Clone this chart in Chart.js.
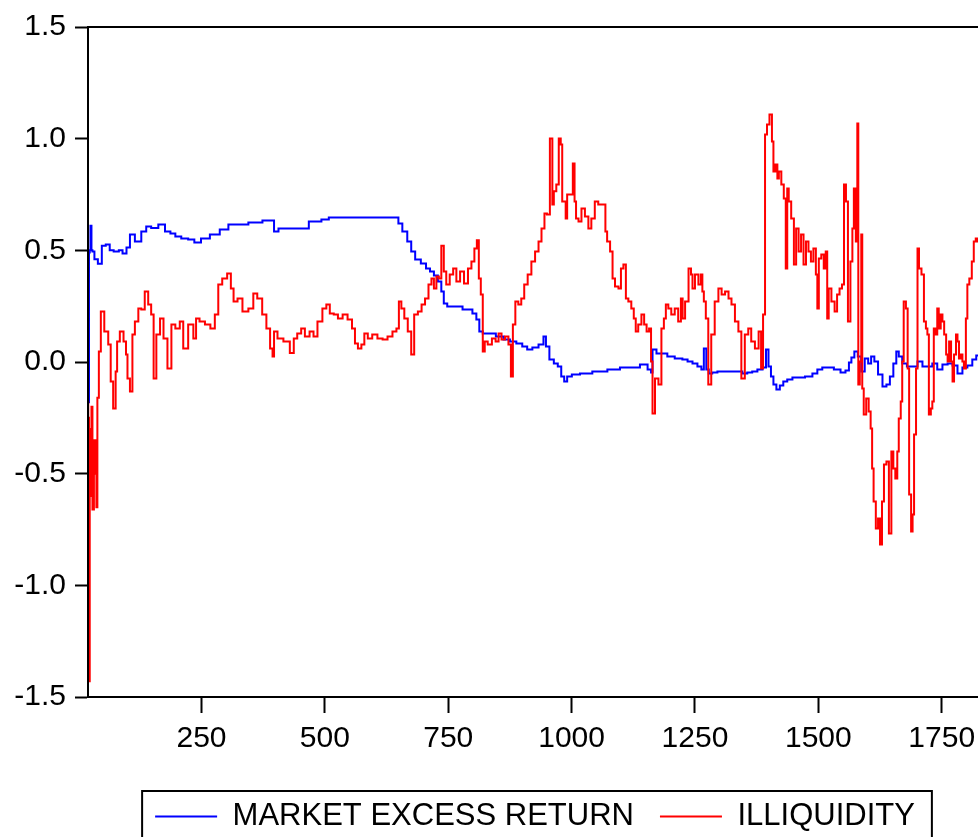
<!DOCTYPE html>
<html>
<head>
<meta charset="utf-8">
<title>Market excess return and illiquidity</title>
<script src="https://cdn.jsdelivr.net/npm/chart.js@4.4.1/dist/chart.umd.min.js"></script>
<style>
  html, body { margin: 0; padding: 0; overflow: hidden; background: #fff; }
  #wrap { width: 1110px; height: 870px; }
</style>
</head>
<body>
<div id="wrap"><canvas id="chart" width="1110" height="870"></canvas></div>
<script>
const marketObs = [20, 21, 23, 24, 26, 28, 30, 36, 44, 52, 60, 68, 76, 80, 85, 95, 101, 109, 121, 135, 141, 155, 170, 182, 192, 202, 216, 230, 241, 257, 277, 297, 312, 338, 352, 395, 399, 413, 449, 486, 500, 516, 600, 646, 652, 662, 672, 678, 688, 701, 709, 717, 725, 733, 739, 743, 753, 774, 784, 794, 804, 810, 816, 824, 838, 855, 869, 881, 895, 905, 915, 926, 940, 946, 950, 960, 968, 976, 982, 988, 994, 1007, 1027, 1057, 1088, 1108, 1128, 1149, 1159, 1163, 1165, 1179, 1189, 1199, 1219, 1230, 1240, 1250, 1260, 1266, 1270, 1276, 1280, 1290, 1301, 1341, 1351, 1361, 1371, 1382, 1392, 1396, 1402, 1406, 1412, 1418, 1426, 1432, 1442, 1453, 1463, 1483, 1493, 1503, 1513, 1523, 1540, 1550, 1560, 1564, 1570, 1576, 1584, 1590, 1598, 1604, 1610, 1617, 1625, 1635, 1641, 1649, 1655, 1661, 1665, 1675, 1684, 1696, 1706, 1716, 1726, 1736, 1746, 1757, 1767, 1777, 1787, 1797, 1807, 1817, 1823, 1835];
const marketValues = [-0.18, -0.18, 0.49, 0.50, 0.61, 0.50, 0.495, 0.46, 0.44, 0.52, 0.526, 0.50, 0.495, 0.495, 0.50, 0.486, 0.513, 0.571, 0.54, 0.584, 0.607, 0.60, 0.616, 0.584, 0.575, 0.562, 0.553, 0.549, 0.535, 0.553, 0.571, 0.593, 0.616, 0.616, 0.625, 0.634, 0.584, 0.598, 0.598, 0.629, 0.638, 0.647, 0.647, 0.647, 0.62, 0.584, 0.54, 0.495, 0.459, 0.441, 0.419, 0.405, 0.387, 0.36, 0.316, 0.262, 0.249, 0.249, 0.235, 0.235, 0.217, 0.19, 0.137, 0.128, 0.128, 0.114, 0.101, 0.092, 0.083, 0.069, 0.056, 0.065, 0.078, 0.114, 0.069, 0.011, -0.007, -0.02, -0.065, -0.087, -0.065, -0.056, -0.051, -0.043, -0.034, -0.025, -0.025, -0.011, -0.034, -0.047, 0.056, 0.038, 0.038, 0.025, 0.016, 0.011, 0.002, -0.007, -0.02, -0.034, 0.06, -0.034, -0.051, -0.047, -0.043, -0.043, -0.051, -0.047, -0.043, -0.034, -0.025, 0.056, -0.02, -0.065, -0.101, -0.123, -0.105, -0.087, -0.078, -0.069, -0.069, -0.065, -0.051, -0.034, -0.025, -0.025, -0.034, -0.047, -0.038, -0.002, 0.02, 0.047, 0.025, -0.043, 0.016, -0.007, 0.025, 0.002, -0.056, -0.11, -0.101, -0.065, -0.007, 0.047, 0.025, -0.007, -0.02, -0.02, 0.002, -0.02, -0.02, -0.007, -0.034, -0.011, -0.007, -0.016, -0.051, -0.025, -0.016, 0.011, 0.029, 0.04];

const illiqObs = [20, 21, 23, 24, 26, 28, 30, 34, 36, 38, 40, 44, 48, 58, 64, 68, 74, 78, 80, 89, 95, 99, 101, 109, 111, 119, 125, 131, 139, 145, 151, 155, 162, 170, 176, 186, 192, 202, 210, 216, 230, 237, 241, 251, 263, 273, 281, 287, 297, 307, 312, 318, 328, 338, 352, 358, 368, 378, 385, 393, 395, 399, 409, 423, 435, 439, 449, 455, 464, 474, 480, 490, 500, 506, 514, 522, 531, 541, 551, 559, 563, 571, 577, 583, 591, 601, 612, 622, 632, 642, 648, 652, 658, 664, 672, 678, 684, 693, 699, 707, 713, 719, 723, 729, 733, 739, 743, 749, 757, 763, 770, 778, 786, 794, 800, 806, 810, 814, 818, 822, 826, 834, 843, 849, 855, 861, 869, 875, 879, 883, 889, 895, 901, 907, 915, 922, 930, 936, 942, 948, 952, 960, 962, 966, 972, 976, 980, 982, 986, 990, 992, 1000, 1005, 1007, 1011, 1017, 1023, 1031, 1037, 1043, 1051, 1057, 1067, 1070, 1074, 1082, 1084, 1092, 1098, 1102, 1108, 1112, 1118, 1124, 1128, 1132, 1138, 1145, 1149, 1155, 1159, 1163, 1165, 1173, 1179, 1185, 1189, 1193, 1199, 1205, 1213, 1219, 1224, 1226, 1234, 1240, 1244, 1246, 1254, 1260, 1264, 1266, 1270, 1274, 1280, 1286, 1294, 1301, 1307, 1315, 1321, 1327, 1335, 1341, 1347, 1355, 1361, 1367, 1376, 1382, 1386, 1390, 1394, 1398, 1404, 1408, 1410, 1416, 1418, 1422, 1428, 1432, 1436, 1438, 1442, 1448, 1453, 1457, 1463, 1467, 1473, 1477, 1483, 1487, 1493, 1497, 1499, 1503, 1509, 1513, 1517, 1519, 1523, 1530, 1536, 1540, 1546, 1550, 1554, 1558, 1562, 1568, 1570, 1574, 1578, 1580, 1582, 1586, 1588, 1590, 1594, 1600, 1604, 1608, 1610, 1614, 1619, 1623, 1627, 1631, 1635, 1641, 1645, 1651, 1653, 1659, 1661, 1665, 1669, 1671, 1675, 1680, 1682, 1686, 1690, 1692, 1696, 1700, 1702, 1706, 1712, 1716, 1720, 1722, 1726, 1730, 1732, 1736, 1740, 1742, 1746, 1750, 1753, 1757, 1761, 1763, 1767, 1771, 1773, 1777, 1781, 1783, 1787, 1791, 1793, 1797, 1801, 1803, 1809, 1813, 1817, 1821, 1823, 1835];
const illiqValues = [-0.18, -0.25, -1.43, -0.30, -0.60, -0.20, -0.66, -0.35, -0.50, -0.65, -0.16, 0.047, 0.226, 0.137, 0.078, -0.087, -0.208, -0.043, 0.092, 0.137, 0.092, 0.034, -0.074, -0.132, 0.123, 0.181, 0.24, 0.235, 0.316, 0.257, 0.213, -0.074, 0.123, 0.195, 0.105, -0.029, 0.168, 0.15, 0.181, 0.06, 0.168, 0.105, 0.195, 0.181, 0.168, 0.15, 0.213, 0.347, 0.374, 0.396, 0.329, 0.271, 0.284, 0.226, 0.24, 0.307, 0.284, 0.213, 0.15, 0.06, 0.025, 0.137, 0.105, 0.092, 0.04, 0.105, 0.128, 0.15, 0.114, 0.137, 0.114, 0.181, 0.24, 0.257, 0.217, 0.213, 0.195, 0.213, 0.19, 0.15, 0.083, 0.06, 0.078, 0.128, 0.105, 0.123, 0.105, 0.101, 0.114, 0.137, 0.15, 0.271, 0.24, 0.195, 0.137, 0.034, 0.213, 0.226, 0.257, 0.284, 0.347, 0.374, 0.329, 0.383, 0.374, 0.52, 0.405, 0.347, 0.392, 0.419, 0.36, 0.405, 0.351, 0.419, 0.45, 0.508, 0.545, 0.374, 0.302, 0.047, 0.092, 0.078, 0.105, 0.092, 0.128, 0.101, 0.114, 0.078, -0.065, 0.168, 0.271, 0.257, 0.284, 0.347, 0.392, 0.45, 0.495, 0.54, 0.598, 0.665, 0.66, 1.001, 0.705, 0.764, 0.795, 1.001, 0.974, 0.719, 0.719, 0.643, 0.75, 0.75, 0.889, 0.719, 0.643, 0.629, 0.687, 0.652, 0.598, 0.643, 0.719, 0.705, 0.705, 0.584, 0.54, 0.495, 0.374, 0.338, 0.329, 0.419, 0.437, 0.284, 0.271, 0.24, 0.195, 0.137, 0.168, 0.213, 0.168, 0.137, 0.15, 0.002, -0.231, -0.074, -0.101, 0.15, 0.195, 0.257, 0.24, 0.213, 0.24, 0.181, 0.284, 0.195, 0.271, 0.419, 0.392, 0.329, 0.392, 0.347, 0.392, 0.316, 0.271, 0.195, -0.101, 0.123, 0.271, 0.329, 0.302, 0.316, 0.284, 0.257, 0.181, 0.137, -0.074, 0.123, 0.15, 0.092, 0.06, 0.137, -0.029, 0.213, 1.019, 1.063, 1.108, 0.987, 0.853, 0.884, 0.822, 0.853, 0.795, 0.732, 0.419, 0.777, 0.719, 0.643, 0.437, 0.598, 0.495, 0.571, 0.437, 0.54, 0.495, 0.45, 0.508, 0.392, 0.24, 0.463, 0.481, 0.419, 0.495, 0.195, 0.329, 0.271, 0.226, 0.302, 0.329, 0.347, 0.795, 0.719, 0.181, 0.45, 0.598, 0.777, 0.54, 1.068, -0.101, 0.002, 0.571, -0.119, -0.235, -0.163, -0.222, -0.298, -0.477, -0.625, -0.746, -0.701, -0.817, -0.625, -0.459, -0.446, -0.768, -0.401, -0.477, -0.522, -0.401, -0.253, -0.177, 0.002, 0.271, 0.24, -0.029, -0.593, -0.759, -0.683, -0.325, -0.029, 0.508, 0.419, 0.392, 0.181, 0.15, 0.123, -0.235, -0.208, -0.177, 0.15, 0.123, 0.24, 0.15, 0.213, 0.181, 0.123, 0.034, 0.002, 0.092, 0.002, -0.087, 0.034, 0.123, 0.092, 0.016, 0.034, 0.002, -0.029, 0.195, 0.347, 0.374, 0.45, 0.54, 0.553, 0.54, 0.55];

const xTickValues = [250, 500, 750, 1000, 1250, 1500, 1750, 2000];
const yTickValues = [-1.5, -1.0, -0.5, 0.0, 0.5, 1.0, 1.5];

const toPoints = (xs, ys) => xs.map((x, i) => ({ x: x, y: ys[i] }));

// frame round the plot area and box round the legend, EViews style
const framePlugin = {
  id: 'frame',
  afterDatasetsDraw(chart) {
    const a = chart.chartArea;
    const ctx = chart.ctx;
    ctx.save();
    ctx.strokeStyle = '#000';
    ctx.lineWidth = 2;
    ctx.strokeRect(a.left, a.top, a.right - a.left, a.bottom - a.top);
    ctx.restore();
  },
  afterDraw(chart) {
    const boxes = chart.legend.legendHitBoxes;
    if (!boxes || !boxes.length) return;
    const last = boxes[boxes.length - 1];
    const left = boxes[0].left - 13;
    const right = last.left + last.width + 17;
    const top = boxes[0].top - 10;
    const ctx = chart.ctx;
    ctx.save();
    ctx.strokeStyle = '#000';
    ctx.lineWidth = 2;
    ctx.strokeRect(left, top, right - left, 200);
    ctx.restore();
  }
};

const tickFont = { family: "'Liberation Sans', Arial, sans-serif", size: 30 };

new Chart(document.getElementById('chart'), {
  type: 'line',
  data: {
    datasets: [
      {
        label: 'MARKET EXCESS RETURN',
        data: toPoints(marketObs, marketValues),
        borderColor: '#0000ff',
        backgroundColor: '#0000ff',
        borderWidth: 2,
        pointRadius: 0,
        stepped: 'middle',
        order: 1
      },
      {
        label: 'ILLIQUIDITY',
        data: toPoints(illiqObs, illiqValues),
        borderColor: '#ff0000',
        backgroundColor: '#ff0000',
        borderWidth: 2,
        pointRadius: 0,
        stepped: 'middle',
        order: 0
      }
    ]
  },
  options: {
    responsive: false,
    animation: false,
    layout: { padding: { top: 24, left: 0, right: 40, bottom: 28 } },
    plugins: {
      tooltip: { enabled: false },
      legend: {
        position: 'bottom',
        labels: {
          usePointStyle: true,
          pointStyle: 'line',
          pointStyleWidth: 62,
          padding: 26,
          color: '#000',
          font: { family: "'Liberation Sans', Arial, sans-serif", size: 31 },
          sort: (a, b) => a.datasetIndex - b.datasetIndex
        }
      }
    },
    scales: {
      x: {
        type: 'linear',
        min: 20,
        max: 2010,
        afterFit: (scale) => { scale.height = 78; },
        afterBuildTicks: (scale) => { scale.ticks = xTickValues.map((v) => ({ value: v })); },
        border: { display: true, color: '#000', width: 2 },
        grid: { drawOnChartArea: false, drawTicks: true, tickLength: 16, tickWidth: 2, tickColor: '#000' },
        ticks: { color: '#000', font: tickFont, padding: 8, maxRotation: 0, callback: (v) => String(v) }
      },
      y: {
        min: -1.5,
        max: 1.5,
        afterFit: (scale) => { scale.width = 88; },
        afterBuildTicks: (scale) => { scale.ticks = yTickValues.map((v) => ({ value: v })); },
        border: { display: true, color: '#000', width: 2 },
        grid: { drawOnChartArea: false, drawTicks: true, tickLength: 13, tickWidth: 2, tickColor: '#000' },
        ticks: { color: '#000', font: tickFont, padding: 9, callback: (v) => v.toFixed(1) }
      }
    }
  },
  plugins: [framePlugin]
});
</script>
</body>
</html>
